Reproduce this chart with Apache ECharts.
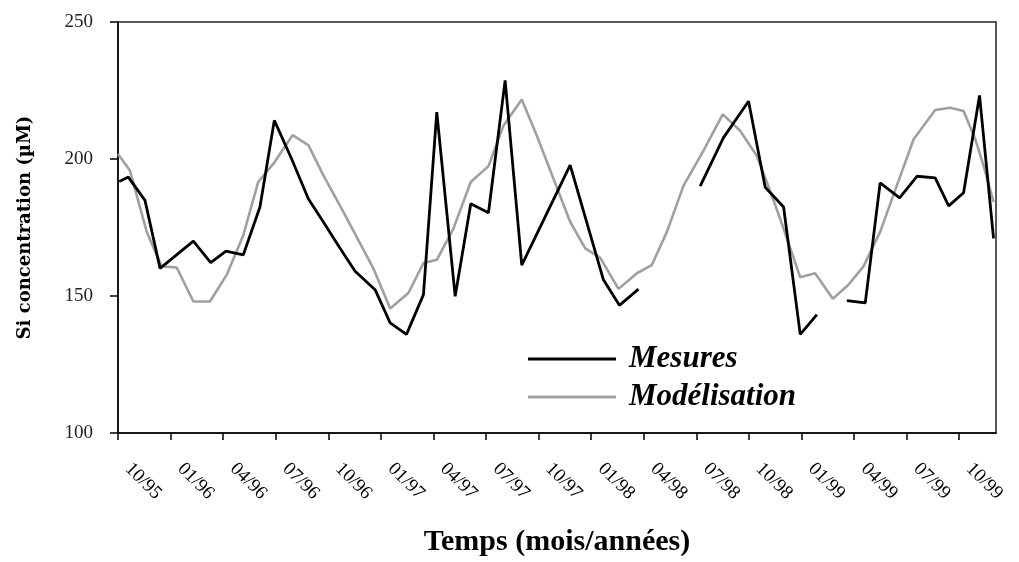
<!DOCTYPE html>
<html>
<head>
<meta charset="utf-8">
<script src="https://cdn.jsdelivr.net/npm/echarts@6/dist/echarts.min.js"></script>
<style>html,body{margin:0;padding:0;background:#fff;}#c{width:1019px;height:562px;}</style>
</head>
<body>
<div id="c"></div>
<script>
// Tick labels (every 3 months, starting Oct 1995 = month 0)
const tickLabels = ['10/95','01/96','04/96','07/96','10/96','01/97','04/97','07/97','10/97','01/98','04/98','07/98','10/98','01/99','04/99','07/99','10/99'];
const tickMonths = [0,3,6,9,12,15,18,21,24,27,30,33,36,39,42,45,48];

// Mesures: months since Oct 1995, values (null = gap)
const mesMonths = [0.07,0.59,1.54,2.40,4.30,5.29,6.16,7.15,8.10,8.92,9.91,10.86,11.72,12.67,13.53,14.67,15.53,16.46,17.43,18.19,19.24,20.13,21.14,22.09,23.04,25.80,27.70,28.61,29.70,31.5,33.22,34.55,35.98,36.93,37.98,38.93,39.88,40.7,41.59,42.64,43.49,44.60,45.59,46.63,47.40,48.25,49.16,49.96];
const mesValues = [191.8,193.4,184.9,160.1,170,162.2,166.4,165,182.5,214.1,200,185.5,177,167.4,159,152.3,140.2,136,150.5,217.1,149.9,183.7,180.4,228.7,161.3,197.8,155.9,146.6,152.5,null,190.1,207.8,221.1,189.7,182.5,136,143.2,null,148.3,147.5,191.3,185.8,193.7,193.1,182.9,187.7,223.2,171];

// Modélisation
const modMonths = [0,0.68,1.64,2.49,3.35,4.30,5.25,6.20,7.15,8.0,8.86,9.96,10.86,11.72,12.86,14.57,15.53,16.57,17.43,18.19,19.14,20.13,21.14,21.99,23.04,23.90,24.85,25.80,26.66,27.51,28.56,29.61,30.46,31.32,32.27,33.4,34.51,35.5,36.45,37.02,37.78,38.93,39.78,40.79,41.68,42.54,43.49,44.44,45.40,46.63,47.49,48.25,48.92,49.39,49.96];
const modValues = [201.8,195.8,173.4,160.8,160.4,148,148,157.7,172.2,191.6,198.2,208.7,205.1,194,180.7,160.1,145.4,151.1,162,163.2,174.6,191.6,197.4,212.1,221.7,208.5,192.8,177.1,167.4,164,152.6,158.3,161.3,173.4,190.3,203,216.3,210.3,201.2,191.6,178.3,156.8,158.3,149,154.1,160.8,173.4,190.3,207.2,217.9,218.7,217.5,207.2,197.6,184.3];

const mesData = mesMonths.map((m,i)=>[m, mesValues[i]===null ? '-' : mesValues[i]]);
const modData = modMonths.map((m,i)=>[m, modValues[i]]);

const chart = echarts.init(document.getElementById('c'), null, {renderer:'canvas'});
chart.setOption({
  animation:false,
  backgroundColor:'#ffffff',
  grid:{left:118,right:23,top:22,bottom:126,show:true,borderColor:'#222',borderWidth:1.5,backgroundColor:'transparent'},
  xAxis:{
    type:'value',min:0,max:50.1,interval:3,
    name:'Temps (mois/années)',nameLocation:'middle',nameGap:94,
    nameTextStyle:{fontFamily:'Liberation Serif',fontWeight:'bold',fontSize:30,color:'#000'},
    axisLine:{show:true,lineStyle:{color:'#000',width:1.5}},
    axisTick:{show:true,length:7,inside:false,lineStyle:{color:'#000',width:1.5},customValues:tickMonths},
    axisLabel:{show:true,rotate:-45,margin:23,padding:[0,0,0,14],fontFamily:'Liberation Serif',fontSize:19,color:'#000',
      customValues:tickMonths,
      formatter:(v)=>{const i=tickMonths.indexOf(Math.round(v)); return i>=0?tickLabels[i]:'';}},
    splitLine:{show:false}
  },
  yAxis:{
    type:'value',min:100,max:250,interval:50,
    name:'Si concentration (µM)',nameLocation:'middle',nameGap:84,nameRotate:90,
    nameTextStyle:{fontFamily:'DejaVu Serif',fontWeight:'bold',fontSize:18,color:'#000'},
    axisLine:{show:true,lineStyle:{color:'#000',width:1.5}},
    axisTick:{show:true,length:8,lineStyle:{color:'#000',width:1.5}},
    axisLabel:{margin:25,fontFamily:'Liberation Serif',fontSize:19,color:'#222'},
    splitLine:{show:false}
  },
  legend:{
    orient:'vertical',left:523,top:335,itemWidth:88,itemHeight:3,itemGap:0,icon:'rect',
    data:['Mesures','Modélisation'],
    textStyle:{fontFamily:'Liberation Serif',fontWeight:'bold',fontStyle:'italic',fontSize:31,color:'#000',lineHeight:38,padding:[0,0,0,8]}
  },
  series:[
    {name:'Mesures',type:'line',data:mesData,symbol:'none',connectNulls:false,
     lineStyle:{color:'#000',width:2.8},itemStyle:{color:'#000'},z:3},
    {name:'Modélisation',type:'line',data:modData,symbol:'none',
     lineStyle:{color:'#a0a0a0',width:2.6},itemStyle:{color:'#a0a0a0'},z:2}
  ]
});
</script>
</body>
</html>
